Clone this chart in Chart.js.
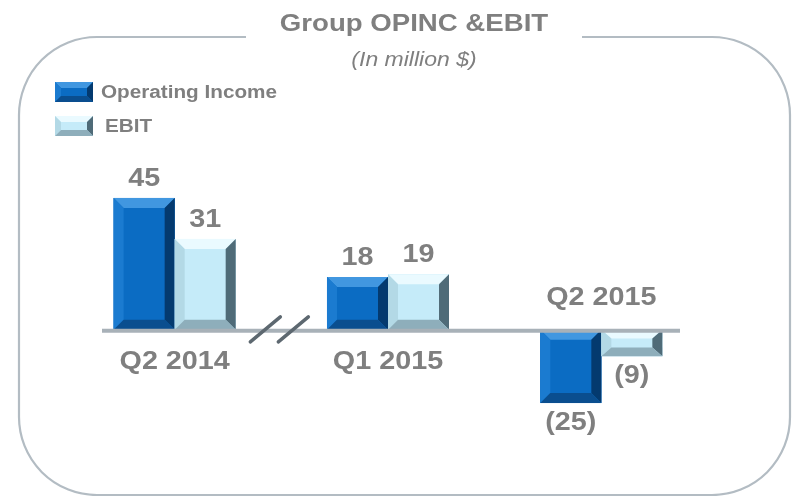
<!DOCTYPE html>
<html>
<head>
<meta charset="utf-8">
<title>Group OPINC &amp; EBIT</title>
<script src="https://cdn.jsdelivr.net/npm/chart.js@4.4.1/dist/chart.umd.min.js"></script>
<style>
  html, body { margin: 0; padding: 0; background: #fff; }
  #wrap { width: 794px; height: 496px; position: relative; }
</style>
</head>
<body>
<div id="wrap"><canvas id="chart"></canvas></div>
<script>
// data
const categories = ['Q2 2014', 'Q1 2015', 'Q2 2015'];
const seriesNames = ['Operating Income', 'EBIT'];
const operatingIncome = [45, 18, -25];
const ebit = [31, 19, -9];

const titleText = 'Group OPINC &EBIT';
const subtitleText = '(In million $)';

const GRAY = '#7f7f7f';
const FONT = '"Liberation Sans", Arial, sans-serif';
const STRETCH = 1.15; // the source text is a little wider than plain Arial

// bevel colours: face, top, left, right, bottom
const bevels = [
  { face: '#0b6cc3', top: '#4197e0', left: '#1b7bd0', right: '#043a6f', bottom: '#0a4e8f' },
  { face: '#c5ebf9', top: '#eafaff', left: '#b3d9e6', right: '#4f6b78', bottom: '#8eaebb' }
];

function fmt(v) {
  return v < 0 ? '(' + Math.abs(v) + ')' : String(v);
}

function text(ctx, str, x, y) {
  ctx.save();
  ctx.translate(x, y);
  ctx.scale(STRETCH, 1);
  ctx.fillText(str, 0, 0);
  ctx.restore();
}

function drawBevelBox(ctx, x0, y0, x1, y1, c, b) {
  const bx = Math.min(b, (x1 - x0) / 3);
  const by = Math.min(b, (y1 - y0) / 3);
  ctx.save();
  ctx.fillStyle = c.face;
  ctx.fillRect(x0, y0, x1 - x0, y1 - y0);
  const poly = (pts, col) => {
    ctx.beginPath();
    ctx.moveTo(pts[0][0], pts[0][1]);
    for (let i = 1; i < pts.length; i++) ctx.lineTo(pts[i][0], pts[i][1]);
    ctx.closePath();
    ctx.fillStyle = col;
    ctx.fill();
  };
  poly([[x0, y0], [x1, y0], [x1 - bx, y0 + by], [x0 + bx, y0 + by]], c.top);
  poly([[x0, y0], [x0 + bx, y0 + by], [x0 + bx, y1 - by], [x0, y1]], c.left);
  poly([[x1, y0], [x1, y1], [x1 - bx, y1 - by], [x1 - bx, y0 + by]], c.right);
  poly([[x0, y1], [x0 + bx, y1 - by], [x1 - bx, y1 - by], [x1, y1]], c.bottom);
  ctx.restore();
}

const decorations = {
  id: 'decorations',
  beforeDraw(chart) {
    const ctx = chart.ctx;
    ctx.save();
    // rounded frame with a gap for the title
    const L = 19, T = 37, R = 790, B = 495, r = 78;
    ctx.strokeStyle = '#b3bcc3';
    ctx.lineWidth = 2.2;
    ctx.beginPath();
    ctx.moveTo(246, T);
    ctx.lineTo(L + r, T);
    ctx.arcTo(L, T, L, T + r, r);
    ctx.lineTo(L, B - r);
    ctx.arcTo(L, B, L + r, B, r);
    ctx.lineTo(R - r, B);
    ctx.arcTo(R, B, R, B - r, r);
    ctx.lineTo(R, T + r);
    ctx.arcTo(R, T, R - r, T, r);
    ctx.lineTo(582, T);
    ctx.stroke();

    // title + subtitle
    ctx.fillStyle = GRAY;
    ctx.textAlign = 'center';
    ctx.textBaseline = 'middle';
    ctx.font = 'bold 24px ' + FONT;
    text(ctx, titleText, 414, 24);
    ctx.font = 'italic 20px ' + FONT;
    text(ctx, subtitleText, 414, 60);

    // legend
    const rows = [[82, 102], [116, 136]];
    ctx.textAlign = 'left';
    ctx.font = 'bold 18px ' + FONT;
    seriesNames.forEach((name, i) => {
      const [y0, y1] = rows[i];
      drawBevelBox(ctx, 55, y0, 93, y1, bevels[i], 6);
      ctx.fillStyle = GRAY;
      text(ctx, name, i === 0 ? 101 : 105, (y0 + y1) / 2 + 1);
    });
    ctx.restore();
  },
  afterDatasetsDraw(chart) {
    const ctx = chart.ctx;
    const xs = chart.scales.x, ys = chart.scales.y;
    const zero = ys.getPixelForValue(0);

    // bevelled bars
    chart.data.datasets.forEach((ds, di) => {
      chart.getDatasetMeta(di).data.forEach(bar => {
        const p = bar.getProps(['x', 'y', 'base', 'width'], true);
        const x0 = p.x - p.width / 2, x1 = p.x + p.width / 2;
        const top = Math.min(p.y, p.base), bot = Math.max(p.y, p.base);
        drawBevelBox(ctx, x0, top, x1, bot, bevels[di], 10);
      });
    });

    ctx.save();
    // baseline
    ctx.strokeStyle = '#a8b1b8';
    ctx.lineWidth = 4;
    ctx.beginPath();
    ctx.moveTo(102, zero + 1);
    ctx.lineTo(680, zero + 1);
    ctx.stroke();

    // axis break marks
    const mid = (xs.getPixelForValue(0) + xs.getPixelForValue(1)) / 2;
    ctx.strokeStyle = '#5d6870';
    ctx.lineWidth = 3.5;
    ctx.lineCap = 'round';
    [mid - 16, mid + 12].forEach(cx => {
      ctx.beginPath();
      ctx.moveTo(cx - 15, zero + 12);
      ctx.lineTo(cx + 15, zero - 13);
      ctx.stroke();
    });

    // value labels
    ctx.fillStyle = GRAY;
    ctx.textAlign = 'center';
    ctx.textBaseline = 'middle';
    ctx.font = 'bold 25px ' + FONT;
    chart.data.datasets.forEach((ds, di) => {
      chart.getDatasetMeta(di).data.forEach((bar, i) => {
        const v = ds.data[i];
        const p = bar.getProps(['x', 'y'], true);
        const y = v >= 0 ? p.y - 19 : p.y + 20;
        text(ctx, fmt(v), p.x, y);
      });
    });

    // category labels: below baseline, above it where the bars go down
    categories.forEach((c, i) => {
      const x = xs.getPixelForValue(i);
      const neg = operatingIncome[i] < 0;
      text(ctx, c, x, neg ? zero - 32 : zero + 32);
    });
    ctx.restore();
  }
};

new Chart(document.getElementById('chart'), {
  type: 'bar',
  data: {
    labels: categories,
    datasets: [
      { label: seriesNames[0], data: operatingIncome, backgroundColor: bevels[0].face },
      { label: seriesNames[1], data: ebit, backgroundColor: bevels[1].face }
    ]
  },
  options: {
    responsive: true,
    maintainAspectRatio: false,
    animation: false,
    layout: { padding: { left: 68, right: 86, top: 154, bottom: 49 } },
    datasets: { bar: { categoryPercentage: 0.572, barPercentage: 1 } },
    scales: {
      x: { display: false },
      y: { display: false, min: -40, max: 60 }
    },
    plugins: {
      legend: { display: false },
      title: { display: false },
      tooltip: { enabled: false }
    }
  },
  plugins: [decorations]
});
</script>
</body>
</html>
